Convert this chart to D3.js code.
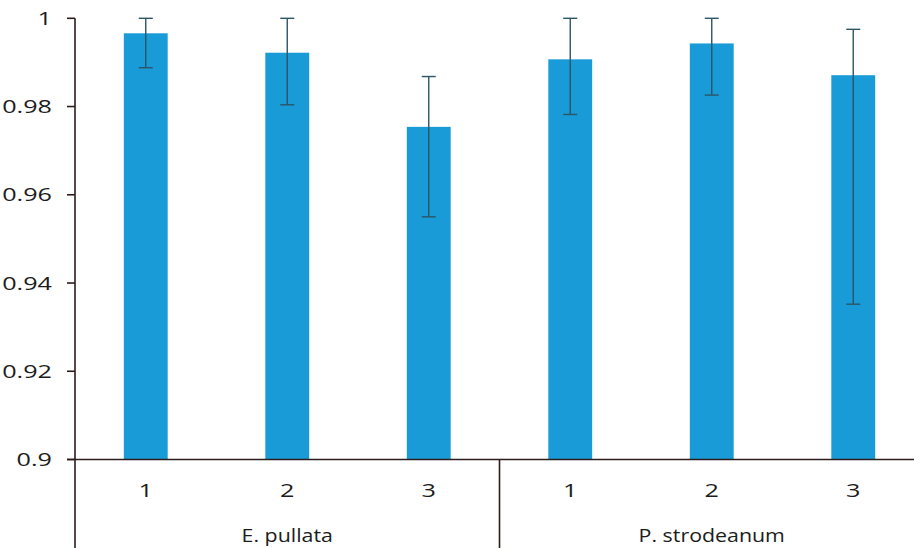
<!DOCTYPE html>
<html>
<head>
<meta charset="utf-8">
<script src="https://cdn.jsdelivr.net/npm/d3@7"></script>
<style>
  html, body { margin: 0; padding: 0; background: #ffffff; }
  svg { display: block; }
  text { font-family: "Open Sans", "Noto Sans", sans-serif; fill: #1c1c1c; }
</style>
</head>
<body>
<div id="chart"></div>
<script>
// ---- data ----
const groups = ["E. pullata", "P. strodeanum"];
const subLabels = ["1", "2", "3", "1", "2", "3"];
const values = [0.9966, 0.9922, 0.9754, 0.9907, 0.9943, 0.9871];
const errUpper = [1.0, 1.0, 0.9868, 1.0, 1.0, 0.9975];
const errLower = [0.9888, 0.9804, 0.9550, 0.9782, 0.9826, 0.9352];
const yTicks = [0.9, 0.92, 0.94, 0.96, 0.98, 1];
const yTickLabels = ["0.9", "0.92", "0.94", "0.96", "0.98", "1"];

// ---- layout ----
const W = 914, H = 548;
const axisX = 75, plotRight = 924;
const yTop = 18.3, yBottom = 459.5;
const axisColor = "#2e1c1c";
const barColor = "#189bd7";
const errColor = "#2c5566";
const numSize = 18.5, numSx = 1.36;   // digit labels
const txtSize = 17.8, txtSx = 1.2;    // group labels

const svg = d3.select("#chart").append("svg")
  .attr("width", W).attr("height", H);

const x = d3.scaleBand()
  .domain(d3.range(values.length))
  .range([axisX, plotRight])
  .paddingInner(0.69)
  .paddingOuter(0.345);

const xStep = d3.scaleBand()
  .domain(d3.range(values.length))
  .range([axisX, plotRight])
  .padding(0);

const y = d3.scaleLinear().domain([0.9, 1]).range([yBottom, yTop]);

// bars
svg.append("g").selectAll("rect")
  .data(values)
  .join("rect")
  .attr("x", (d, i) => x(i))
  .attr("width", x.bandwidth())
  .attr("y", d => y(d))
  .attr("height", d => y(0.9) - y(d))
  .attr("fill", barColor);

// error bars
const eg = svg.append("g").attr("stroke", errColor).attr("stroke-width", 1.4);
const capW = 14;
values.forEach((v, i) => {
  const cx = x(i) + x.bandwidth() / 2;
  eg.append("line").attr("x1", cx).attr("x2", cx)
    .attr("y1", y(errUpper[i])).attr("y2", y(errLower[i]));
  eg.append("line").attr("x1", cx - capW / 2).attr("x2", cx + capW / 2)
    .attr("y1", y(errUpper[i])).attr("y2", y(errUpper[i]));
  eg.append("line").attr("x1", cx - capW / 2).attr("x2", cx + capW / 2)
    .attr("y1", y(errLower[i])).attr("y2", y(errLower[i]));
});

// y axis
const yAxis = svg.append("g");
yAxis.append("line")
  .attr("x1", axisX).attr("x2", axisX)
  .attr("y1", y(1)).attr("y2", H)
  .attr("stroke", axisColor).attr("stroke-width", 1.6);
yTicks.forEach((t, i) => {
  yAxis.append("line")
    .attr("x1", axisX - 8).attr("x2", axisX)
    .attr("y1", y(t)).attr("y2", y(t))
    .attr("stroke", axisColor).attr("stroke-width", 1.6);
  yAxis.append("text")
    .attr("transform", `translate(52,${y(t) + 6.7}) scale(${numSx},1)`)
    .attr("text-anchor", "end")
    .attr("font-size", numSize)
    .text(yTickLabels[i]);
});

// x axis
const xAxis = svg.append("g");
xAxis.append("line")
  .attr("x1", axisX - 8).attr("x2", W)
  .attr("y1", y(0.9)).attr("y2", y(0.9))
  .attr("stroke", axisColor).attr("stroke-width", 1.6);
// group separator
const sepX = xStep(3);
xAxis.append("line")
  .attr("x1", sepX).attr("x2", sepX)
  .attr("y1", y(0.9)).attr("y2", H)
  .attr("stroke", axisColor).attr("stroke-width", 1.6);

subLabels.forEach((s, i) => {
  const cx = x(i) + x.bandwidth() / 2;
  xAxis.append("text")
    .attr("transform", `translate(${cx},497) scale(${numSx},1)`)
    .attr("text-anchor", "middle")
    .attr("font-size", numSize)
    .text(s);
});

groups.forEach((g, gi) => {
  const gx = (xStep(gi * 3) + xStep(gi * 3 + 2) + xStep.bandwidth()) / 2;
  xAxis.append("text")
    .attr("transform", `translate(${gx},542) scale(${txtSx},1)`)
    .attr("text-anchor", "middle")
    .attr("font-size", txtSize)
    .text(g);
});
</script>
</body>
</html>
